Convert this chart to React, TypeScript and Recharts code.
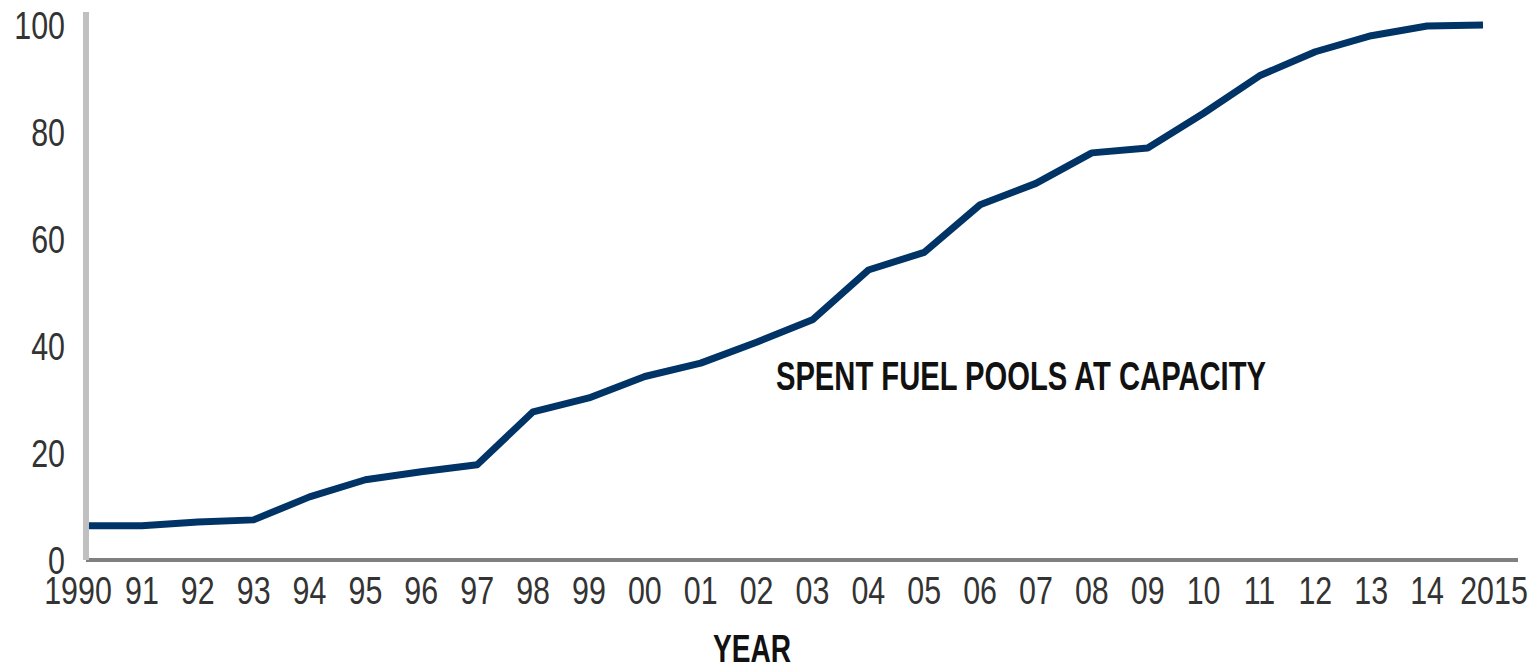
import React from "react";
import { LineChart, Line, XAxis, YAxis, ReferenceDot } from "recharts";

const years = [
  "1990", "91", "92", "93", "94", "95", "96", "97", "98", "99",
  "00", "01", "02", "03", "04", "05", "06", "07", "08", "09",
  "10", "11", "12", "13", "14", "2015",
];
const poolsAtCapacity = [
  6.4, 6.4, 7.1, 7.5, 11.8, 15, 16.5, 17.8, 27.7, 30.3,
  34.3, 36.8, 40.7, 44.9, 54.2, 57.5, 66.4, 70.4, 76.1, 77,
  83.5, 90.5, 95, 98, 99.8, 100,
];
const yTicks = [0, 20, 40, 60, 80, 100];

const data = years.map((year, i) => ({ year, value: poolsAtCapacity[i] }));

const FONT = '"Liberation Sans", Arial, sans-serif';
const NAVY = "#003366";
const SQUEEZE = 0.8; // original uses a condensed face

function YearTick(props: any) {
  const { x, y, payload, index } = props;
  // end labels sit a little outward in the original
  const shift = index === 0 ? -8 : index === years.length - 1 ? 11 : 0;
  return (
    <g transform={`translate(${x + shift},${y}) scale(${SQUEEZE},1)`}>
      <text x={0} y={0} dy="0.71em" textAnchor="middle" fill="#333" fontFamily={FONT} fontSize={38}>
        {payload.value}
      </text>
    </g>
  );
}

function ValueTick(props: any) {
  const { x, y, payload } = props;
  return (
    <g transform={`translate(${x},${y + 1}) scale(${SQUEEZE},1)`}>
      <text x={0} y={0} dy="0.355em" textAnchor="end" fill="#333" fontFamily={FONT} fontSize={38}>
        {payload.value}
      </text>
    </g>
  );
}

function YearLabel(props: any) {
  const { viewBox } = props;
  return (
    <text
      x={viewBox.x + viewBox.width / 2 - 50}
      y={viewBox.y + viewBox.height - 4}
      textAnchor="middle"
      textLength={78}
      lengthAdjust="spacingAndGlyphs"
      fill="#111"
      fontFamily={FONT}
      fontWeight={700}
      fontSize={38}
    >
      YEAR
    </text>
  );
}

function NoteText(props: any) {
  const { cx, cy } = props;
  return (
    <text
      x={cx - 15}
      y={cy + 14}
      textAnchor="middle"
      textLength={490}
      lengthAdjust="spacingAndGlyphs"
      fill="#111"
      fontFamily={FONT}
      fontWeight={700}
      fontSize={40}
    >
      SPENT FUEL POOLS AT CAPACITY
    </text>
  );
}

export default function App() {
  return (
    <div style={{ position: "absolute", left: 0, top: 0, background: "#fff" }}>
      <LineChart
        width={1537}
        height={666}
        data={data}
        margin={{ top: 12, right: 19, bottom: 0, left: 0 }}
      >
        <XAxis
          dataKey="year"
          interval={0}
          height={106}
          padding={{ left: 0, right: 35 }}
          axisLine={{ stroke: "#808080", strokeWidth: 4 }}
          tickLine={false}
          tickSize={0}
          tickMargin={17}
          tick={<YearTick />}
          label={(p: any) => <YearLabel {...p} />}
        />
        <YAxis
          domain={[0, 100]}
          ticks={yTicks}
          width={86}
          padding={{ top: 13, bottom: 0 }}
          axisLine={{ stroke: "#c0c0c0", strokeWidth: 6 }}
          tickLine={false}
          tickSize={0}
          tickMargin={21}
          tick={<ValueTick />}
        />
        <Line
          type="linear"
          dataKey="value"
          stroke={NAVY}
          strokeWidth={7}
          strokeLinejoin="round"
          dot={false}
          isAnimationActive={false}
        />
        <ReferenceDot x="07" y={34.4} r={1} shape={(p: any) => <NoteText {...p} />} />
      </LineChart>
    </div>
  );
}
